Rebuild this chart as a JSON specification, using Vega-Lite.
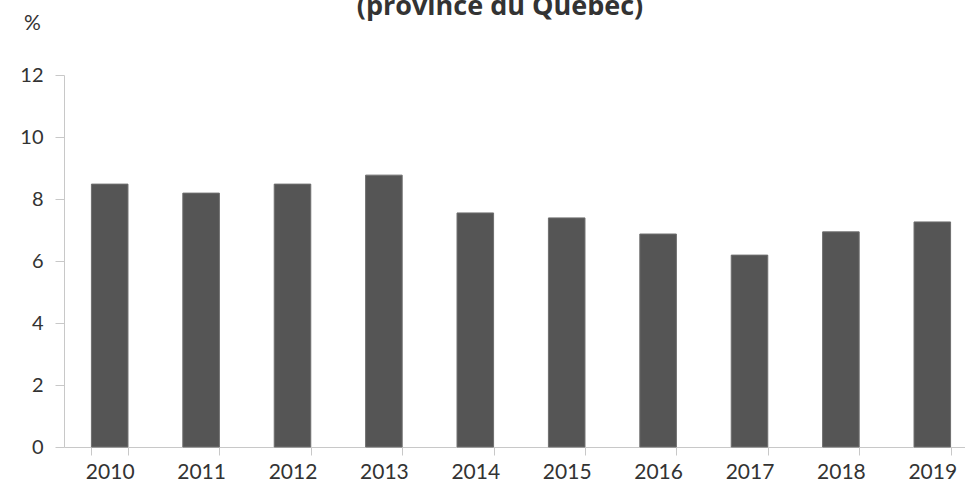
{
  "$schema": "https://vega.github.io/schema/vega-lite/v6.json",
  "autosize": {"type": "none"},
  "padding": {"left": 64, "top": 75, "right": 0, "bottom": 37},
  "width": 914,
  "height": 372,
  "background": "#ffffff",
  "title": {
    "text": "(province du Québec)",
    "font": "Open Sans",
    "fontSize": 27,
    "fontWeight": "bold",
    "color": "#333333",
    "anchor": "middle",
    "dx": -21,
    "offset": -9
  },
  "data": {
    "values": [
      {"annee": "2010", "valeur": 8.48},
      {"annee": "2011", "valeur": 8.19},
      {"annee": "2012", "valeur": 8.48},
      {"annee": "2013", "valeur": 8.77},
      {"annee": "2014", "valeur": 7.55},
      {"annee": "2015", "valeur": 7.39},
      {"annee": "2016", "valeur": 6.87},
      {"annee": "2017", "valeur": 6.19},
      {"annee": "2018", "valeur": 6.94},
      {"annee": "2019", "valeur": 7.26}
    ]
  },
  "mark": {"type": "bar", "color": "#555555", "stroke": "#6e6e6e", "strokeWidth": 1},
  "encoding": {
    "x": {
      "field": "annee",
      "type": "ordinal",
      "scale": {"paddingInner": 0.6, "paddingOuter": 0.3},
      "axis": {
        "title": null,
        "labelAngle": 0,
        "tickBand": "extent",
        "tickSize": 8,
        "tickColor": "#c8c8c8",
        "domainColor": "#c8c8c8",
        "labelFont": "Lato",
        "labelFontSize": 21,
        "labelColor": "#333333",
        "labelPadding": 6
      }
    },
    "y": {
      "field": "valeur",
      "type": "quantitative",
      "scale": {"domain": [0, 12]},
      "axis": {
        "values": [0, 2, 4, 6, 8, 10, 12],
        "grid": false,
        "title": "%",
        "titleAngle": 0,
        "titleX": -32,
        "titleY": -52,
        "titleAlign": "center",
        "titleBaseline": "middle",
        "titleFont": "Lato",
        "titleFontSize": 21,
        "titleFontWeight": "normal",
        "titleColor": "#333333",
        "tickSize": 9,
        "tickColor": "#c8c8c8",
        "domainColor": "#c8c8c8",
        "labelFont": "Lato",
        "labelFontSize": 20,
        "labelColor": "#333333",
        "labelPadding": 12
      }
    }
  },
  "config": {"view": {"stroke": null}}
}
